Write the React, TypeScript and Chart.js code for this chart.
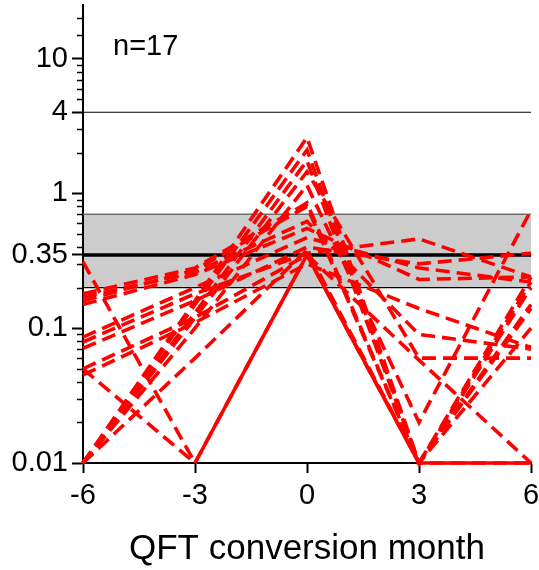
import React, { useEffect, useRef } from "react";
import { Chart, registerables } from "chart.js";

Chart.register(...registerables);

// ---- axis / reference values ----
const MONTHS = [-6, -3, 0, 3, 6];
const X_TICKS = [-6, -3, 0, 3, 6];
const Y_LABELED_TICKS = [0.01, 0.1, 0.35, 1, 4, 10];
const Y_MINOR_TICKS = [
  0.02, 0.03, 0.04, 0.05, 0.06, 0.07, 0.08, 0.09,
  0.2, 0.3, 0.4, 0.5, 0.6, 0.7, 0.8, 0.9,
  2, 3, 5, 6, 7, 8, 9, 15, 20,
];
const Y_MIN = 0.01;
const Y_MAX = 25;
const GRAY_ZONE = [0.2, 0.7];
const CUTOFF = 0.35;
const UPPER_LINE = 4;
const N_LABEL = "n=17";
const X_TITLE = "QFT conversion month";

// ---- subject series (values at MONTHS) ----
const P01 = [0.01, 0.16, 2.6, 0.01, 0.2];
const P02 = [0.01, 0.15, 2.1, 0.01, 0.15];
const P03 = [0.01, 0.13, 1.75, 0.01, 0.1];
const P04 = [0.01, 0.12, 1.45, 0.06, 0.06];
const P05 = [0.01, 0.1, 1.15, 0.02, 0.75];
const P06 = [0.18, 0.28, 0.85, 0.01, 0.22];
const P07 = [0.16, 0.27, 0.8, 0.01, 0.24];
const P08 = [0.15, 0.25, 0.55, 0.23, 0.24];
const P09 = [0.086, 0.2, 0.47, 0.28, 0.22];
const P10 = [0.079, 0.18, 0.36, 0.46, 0.24];
const P11 = [0.071, 0.16, 0.4, 0.3, 0.36];
const P12 = [0.05, 0.12, 0.35, 0.058, 0.01];
const P13 = [0.045, 0.11, 0.3, 0.14, 0.072];
const P14 = [0.31, 0.01, 0.35, 0.01, 0.01];
const P15 = [0.05, 0.01, 0.35, 0.01, 0.01];
const P16 = [0.01, 0.06, 0.38, 0.01, 0.14];
const P17 = [0.17, 0.26, 0.62, 0.09, 0.07];

const SUBJECTS = [P01, P02, P03, P04, P05, P06, P07, P08, P09, P10, P11, P12, P13, P14, P15, P16, P17];
// subject drawn solid after its first segment
const SOLID_SUBJECT = 13;

const FONT = '"Liberation Sans", Arial, Helvetica, sans-serif';
const RED = "#ff0000";
const DASH = [14, 7];

const refPlugin = {
  id: "refLines",
  beforeDatasetsDraw(chart: any) {
    const { ctx, chartArea: a, scales } = chart;
    const y = scales.y;
    const yTop = y.getPixelForValue(GRAY_ZONE[1]);
    const yBot = y.getPixelForValue(GRAY_ZONE[0]);
    ctx.save();
    ctx.fillStyle = "#cccccc";
    ctx.fillRect(a.left + 1, yTop, a.right - a.left - 1, yBot - yTop);
    const hline = (yy: number, color: string, w: number) => {
      ctx.beginPath();
      ctx.strokeStyle = color;
      ctx.lineWidth = w;
      ctx.moveTo(a.left, yy);
      ctx.lineTo(a.right, yy);
      ctx.stroke();
    };
    hline(yTop, "#707070", 1.5);
    hline(yBot, "#000000", 1.2);
    hline(y.getPixelForValue(UPPER_LINE), "#000000", 1.2);
    hline(y.getPixelForValue(CUTOFF), "#000000", 3.5);
    ctx.restore();
  },
  afterDraw(chart: any) {
    const { ctx, chartArea: a, scales } = chart;
    const y = scales.y;
    ctx.save();
    ctx.strokeStyle = "#000";
    ctx.lineWidth = 1.5;
    for (const v of Y_MINOR_TICKS) {
      const py = Math.round(y.getPixelForValue(v)) + 0.5;
      ctx.beginPath();
      ctx.moveTo(a.left - 6, py);
      ctx.lineTo(a.left, py);
      ctx.stroke();
    }
    ctx.fillStyle = "#000";
    ctx.font = `29px ${FONT}`;
    ctx.textBaseline = "alphabetic";
    ctx.textAlign = "left";
    ctx.fillText(N_LABEL, a.left + 30, 55);
    ctx.restore();
  },
};

export default function App() {
  const ref = useRef<HTMLCanvasElement | null>(null);

  useEffect(() => {
    if (!ref.current) return;
    const datasets = SUBJECTS.map((s, i) => ({
      data: s.map((v, j) => ({ x: MONTHS[j], y: v })),
      borderColor: RED,
      backgroundColor: RED,
      borderWidth: 3.6,
      borderDash: DASH,
      pointRadius: 0,
      tension: 0,
      clip: false as any,
      segment:
        i === SOLID_SUBJECT
          ? { borderDash: (c: any) => (c.p0DataIndex >= 1 ? [] : DASH) }
          : undefined,
    }));

    const chart = new Chart(ref.current, {
      type: "line",
      data: { datasets },
      plugins: [refPlugin],
      options: {
        animation: false,
        responsive: false,
        maintainAspectRatio: false,
        devicePixelRatio: 1,
        layout: { padding: { top: 5, right: 8, left: 0, bottom: 0 } },
        plugins: { legend: { display: false }, tooltip: { enabled: false }, title: { display: false } },
        scales: {
          x: {
            type: "linear",
            min: -6,
            max: 6,
            afterBuildTicks: (s: any) => {
              s.ticks = X_TICKS.map((v) => ({ value: v }));
            },
            afterFit: (s: any) => {
              s.height = 107;
              s.paddingLeft = 0;
              s.paddingRight = 0;
            },
            grid: {
              display: true,
              drawOnChartArea: false,
              drawTicks: true,
              tickLength: 10,
              tickWidth: 2,
              tickColor: "#000",
            },
            border: { display: true, color: "#000", width: 2 },
            ticks: {
              color: "#000",
              font: { family: FONT, size: 29 },
              padding: 6,
              maxRotation: 0,
              autoSkip: false,
              callback: (v: any) => String(v),
            },
            title: {
              display: true,
              text: X_TITLE,
              color: "#000",
              font: { family: FONT, size: 35 },
              padding: { top: 0, bottom: 0 },
            },
          } as any,
          y: {
            type: "logarithmic",
            min: Y_MIN,
            max: Y_MAX,
            afterBuildTicks: (s: any) => {
              s.ticks = Y_LABELED_TICKS.map((v) => ({ value: v }));
            },
            afterFit: (s: any) => {
              s.width = 83;
              s.paddingTop = 0;
              s.paddingBottom = 0;
            },
            grid: {
              display: true,
              drawOnChartArea: false,
              drawTicks: true,
              tickLength: 11,
              tickWidth: 2,
              tickColor: "#000",
            },
            border: { display: true, color: "#000", width: 2 },
            ticks: {
              color: "#000",
              font: { family: FONT, size: 29 },
              padding: 4,
              autoSkip: false,
              callback: (v: any) => String(v),
            },
          } as any,
        },
      },
    });
    return () => chart.destroy();
  }, []);

  return (
    <div style={{ position: "fixed", left: 0, top: 0, width: 539, height: 570, background: "#fff" }}>
      <canvas ref={ref} width={539} height={570} style={{ width: 539, height: 570, display: "block" }} />
    </div>
  );
}
